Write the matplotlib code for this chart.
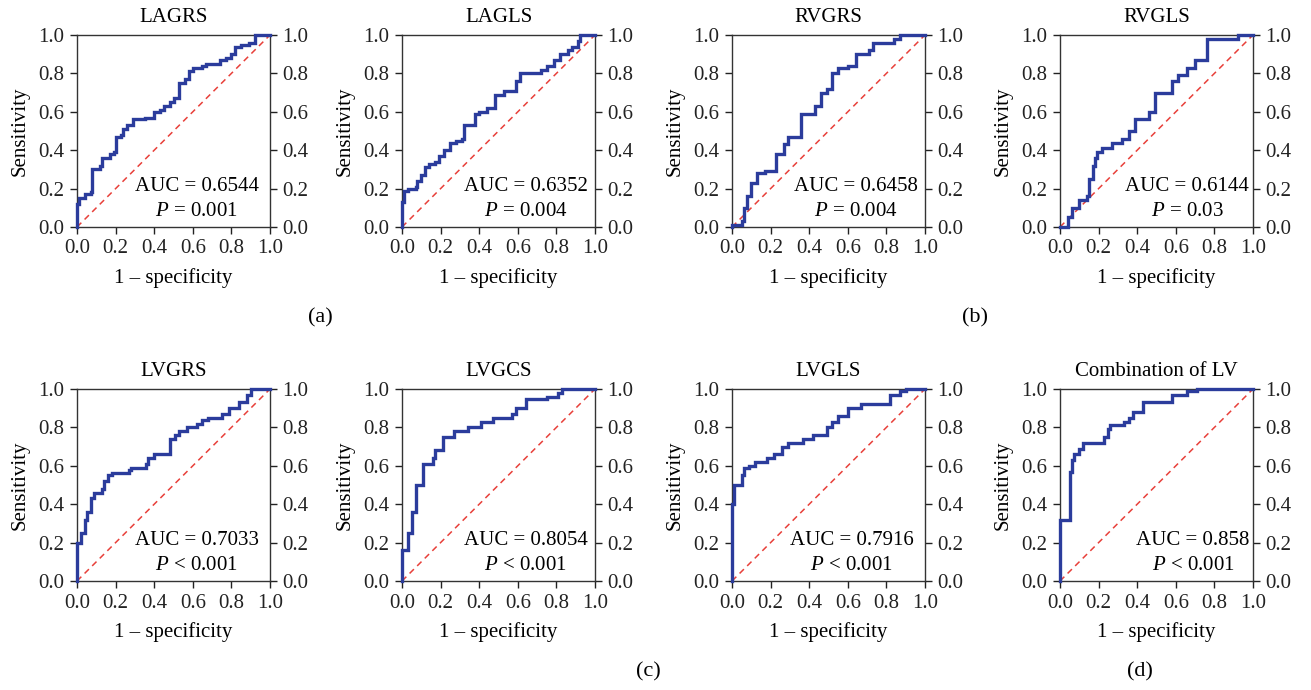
import matplotlib
matplotlib.use("Agg")
import matplotlib.pyplot as plt

plt.rcParams['font.family'] = ['Liberation Serif', 'DejaVu Serif']
plt.rcParams['mathtext.fontset'] = 'custom'
plt.rcParams['mathtext.it'] = 'Liberation Serif:italic'
plt.rcParams['mathtext.rm'] = 'Liberation Serif'

# ROC step curves: (1 - specificity, sensitivity) at each rise
fpr_lagrs = [0, 0, 0.01, 0.04, 0.07, 0.08, 0.12, 0.13, 0.17, 0.19, 0.20, 0.23, 0.24, 0.26, 0.29, 0.35,
             0.40, 0.43, 0.45, 0.48, 0.50, 0.53, 0.56, 0.58, 0.60, 0.65, 0.67, 0.74, 0.77, 0.80,
             0.82, 0.85, 0.89, 0.92, 1.0]
tpr_lagrs = [0, 0.12, 0.15, 0.17, 0.18, 0.30, 0.32, 0.36, 0.38, 0.39, 0.47, 0.48, 0.51, 0.53, 0.56, 0.57,
             0.60, 0.61, 0.63, 0.65, 0.67, 0.75, 0.77, 0.81, 0.83, 0.84, 0.85, 0.87, 0.88, 0.90,
             0.94, 0.95, 0.96, 1.0, 1.0]

fpr_lagls = [0, 0, 0.01, 0.03, 0.07, 0.08, 0.10, 0.12, 0.14, 0.17, 0.19, 0.22, 0.25, 0.28, 0.31, 0.32,
             0.38, 0.40, 0.44, 0.48, 0.53, 0.59, 0.61, 0.72, 0.75, 0.79, 0.82, 0.86, 0.88, 0.91,
             0.92, 1.0]
tpr_lagls = [0, 0.13, 0.19, 0.20, 0.21, 0.24, 0.27, 0.31, 0.33, 0.34, 0.37, 0.40, 0.44, 0.45, 0.46, 0.53,
             0.59, 0.60, 0.62, 0.69, 0.71, 0.76, 0.80, 0.82, 0.84, 0.87, 0.90, 0.92, 0.94, 0.97,
             1.0, 1.0]

fpr_rvgrs = [0, 0, 0.05, 0.06, 0.08, 0.10, 0.13, 0.17, 0.23, 0.27, 0.29, 0.36, 0.43, 0.46, 0.49, 0.52,
             0.55, 0.60, 0.64, 0.71, 0.73, 0.84, 0.87, 1.0]
tpr_rvgrs = [0, 0.01, 0.03, 0.10, 0.16, 0.23, 0.28, 0.29, 0.38, 0.43, 0.47, 0.59, 0.63, 0.70, 0.72, 0.80,
             0.83, 0.84, 0.90, 0.92, 0.96, 0.98, 1.0, 1.0]

fpr_rvgls = [0, 0.04, 0.06, 0.10, 0.14, 0.15, 0.17, 0.18, 0.19, 0.22, 0.27, 0.32, 0.36, 0.39, 0.46, 0.49,
             0.58, 0.61, 0.66, 0.70, 0.76, 0.92, 1.0]
tpr_rvgls = [0, 0.05, 0.10, 0.14, 0.16, 0.25, 0.32, 0.36, 0.39, 0.41, 0.44, 0.46, 0.50, 0.56, 0.60, 0.70,
             0.76, 0.79, 0.83, 0.87, 0.98, 1.0, 1.0]

fpr_lvgrs = [0, 0, 0.02, 0.04, 0.05, 0.07, 0.09, 0.13, 0.14, 0.16, 0.18, 0.27, 0.28, 0.36, 0.37, 0.40,
             0.48, 0.51, 0.53, 0.57, 0.62, 0.65, 0.68, 0.75, 0.79, 0.84, 0.88, 0.90, 1.0]
tpr_lvgrs = [0, 0.20, 0.25, 0.32, 0.36, 0.43, 0.46, 0.48, 0.52, 0.55, 0.56, 0.58, 0.59, 0.61, 0.64, 0.66,
             0.74, 0.76, 0.78, 0.80, 0.82, 0.84, 0.85, 0.87, 0.90, 0.93, 0.97, 1.0, 1.0]

fpr_lvgcs = [0, 0, 0.03, 0.05, 0.07, 0.11, 0.16, 0.17, 0.21, 0.27, 0.34, 0.41, 0.47, 0.57, 0.59, 0.64,
             0.75, 0.81, 0.83, 1.0]
tpr_lvgcs = [0, 0.16, 0.25, 0.36, 0.50, 0.61, 0.64, 0.68, 0.75, 0.78, 0.80, 0.83, 0.85, 0.87, 0.90, 0.95,
             0.96, 0.98, 1.0, 1.0]

fpr_lvgls = [0, 0, 0.01, 0.05, 0.06, 0.09, 0.12, 0.18, 0.22, 0.26, 0.29, 0.37, 0.42, 0.49, 0.52, 0.55,
             0.60, 0.67, 0.82, 0.87, 0.90, 1.0]
tpr_lvgls = [0, 0.40, 0.50, 0.55, 0.59, 0.60, 0.62, 0.64, 0.66, 0.70, 0.72, 0.74, 0.76, 0.80, 0.83, 0.86,
             0.90, 0.92, 0.97, 0.99, 1.0, 1.0]

fpr_combo = [0, 0, 0.05, 0.06, 0.07, 0.10, 0.12, 0.23, 0.25, 0.26, 0.33, 0.36, 0.38, 0.43, 0.58, 0.66,
             0.71, 1.0]
tpr_combo = [0, 0.32, 0.57, 0.63, 0.66, 0.69, 0.72, 0.75, 0.79, 0.81, 0.83, 0.85, 0.88, 0.93, 0.97, 0.99,
             1.0, 1.0]

titles = ["LAGRS", "LAGLS", "RVGRS", "RVGLS", "LVGRS", "LVGCS", "LVGLS", "Combination of LV"]
auc_labels = ["0.6544", "0.6352", "0.6458", "0.6144", "0.7033", "0.8054", "0.7916", "0.858"]
p_labels = ["= 0.001", "= 0.004", "= 0.004", "= 0.03", "< 0.001", "< 0.001", "< 0.001", "< 0.001"]
curves = [(fpr_lagrs, tpr_lagrs), (fpr_lagls, tpr_lagls), (fpr_rvgrs, tpr_rvgrs), (fpr_rvgls, tpr_rvgls),
          (fpr_lvgrs, tpr_lvgrs), (fpr_lvgcs, tpr_lvgcs), (fpr_lvgls, tpr_lvgls), (fpr_combo, tpr_combo)]
panel_tags = ["(a)", "(b)", "(c)", "(d)"]

W, H = 1311, 690
lefts = [77, 402, 732, 1060]
tops = [35, 389]
aw, ah = 193, 192
text_x = [0.62, 0.64, 0.64, 0.66, 0.62, 0.64, 0.62, 0.69]

BLUE = '#2b3c9c'
RED = '#e8403a'
FS = 15

fig = plt.figure(figsize=(W / 100, H / 100), dpi=100)

for i, (fpr, tpr) in enumerate(curves):
    r, c = divmod(i, 4)
    ax = fig.add_axes([lefts[c] / W, 1 - (tops[r] + ah) / H, aw / W, ah / H])
    ax.plot([0, 1], [0, 1], color=RED, lw=1.1, dashes=(4, 3))
    ax.plot(fpr, tpr, drawstyle='steps-post', color=BLUE, lw=2.4, clip_on=False,
            solid_joinstyle='miter', zorder=3)
    ax.set_xlim(0, 1)
    ax.set_ylim(0, 1)
    ticks = [0, 0.2, 0.4, 0.6, 0.8, 1.0]
    ax.set_xticks(ticks)
    ax.set_yticks(ticks)
    ax.set_xticklabels(["%.1f" % t for t in ticks])
    ax.set_yticklabels(["%.1f" % t for t in ticks])
    ax.tick_params(direction='out', length=5, width=1, labelsize=FS, right=True,
                   labelright=True, colors='#222222', pad=4)
    for s in ax.spines.values():
        s.set_color('#333333')
        s.set_linewidth(1.0)
    ax.set_title(titles[i], fontsize=FS, pad=9)
    ax.set_xlabel("1 \u2013 specificity", fontsize=FS, labelpad=7)
    ax.set_ylabel("Sensitivity", fontsize=FS, labelpad=6)
    ax.text(text_x[i], 0.21, "AUC = " + auc_labels[i], fontsize=FS, ha='center', va='center')
    ax.text(text_x[i], 0.08, "$P$ " + p_labels[i], fontsize=FS, ha='center', va='center')

tag_pos = [(320, 318), (975, 318), (648, 672), (1140, 672)]
for tag, (x, y) in zip(panel_tags, tag_pos):
    fig.text(x / W, 1 - y / H, tag, fontsize=FS + 1, ha='center', va='center')

fig.savefig("out.png", dpi=100)
